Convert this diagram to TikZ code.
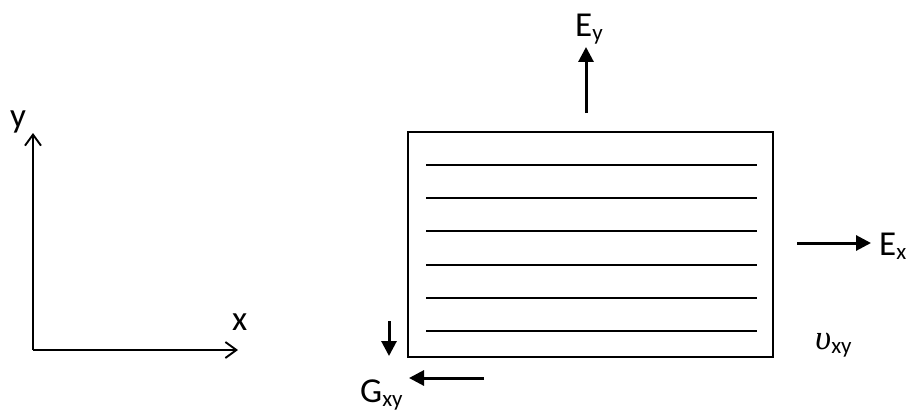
\documentclass[tikz,border=0pt]{standalone}
\usepackage{fontspec}
\setmainfont{Carlito}
\newfontfamily\nufont{Liberation Serif}
\usetikzlibrary{arrows.meta}
\newcommand\sbx[1]{\raisebox{-4pt}{\fontsize{23}{23}\selectfont #1}}
\begin{document}
\begin{tikzpicture}[x=1pt,y=-1pt,
  axis/.style={line width=1.9pt,-{Straight Barb[length=11pt,width=16pt,line width=1.9pt]}},
  force/.style={line width=3pt,-{Triangle[length=15pt,width=15pt]}},
  lbl/.style={inner sep=0pt,font=\fontsize{35}{38}\selectfont},
  ply/.style={line width=1.8pt}]
\useasboundingbox (0,0) rectangle (910,412);
% axes
\coordinate (o) at (33,350);
\coordinate (ytip) at (33,133);
\coordinate (xtip) at (238,350);
\draw[axis] (o) -- (ytip);
\draw[axis] (o) -- (xtip);
\node[lbl,anchor=base west] (ylab) at (10,127) {y};
\node[lbl,anchor=base west] (xlab) at (232,330) {x};
% lamina
\node[draw,line width=1.9pt,minimum width=365pt,minimum height=225pt,inner sep=0pt] (lam) at (590.5,244.5) {};
\foreach \yy in {165,198,231,265,298,331}
  \draw[ply] (426,\yy) -- (757,\yy);
% Ey
\coordinate (eys) at (586,113);
\coordinate (eye) at (586,47);
\draw[force] (eys) -- (eye);
\node[lbl,anchor=base west] (ey) at (575,37) {E\sbx{y}};
% Ex
\coordinate (exs) at (797,243);
\coordinate (exe) at (871,243);
\draw[force] (exs) -- (exe);
\node[lbl,anchor=base west] (ex) at (879,255) {E\sbx{x}};
% nu
\node[lbl,anchor=base west] (nu) at (815,349) {{\nufont\itshape υ}\sbx{xy}};
% G
\coordinate (gds) at (389,321);
\coordinate (gde) at (389,356);
\draw[force] (gds) -- (gde);
\coordinate (gls) at (484,378);
\coordinate (gle) at (409,378);
\draw[force] (gls) -- (gle);
\node[lbl,anchor=base west] (g) at (360,402) {G\sbx{xy}};
\end{tikzpicture}
\end{document}
